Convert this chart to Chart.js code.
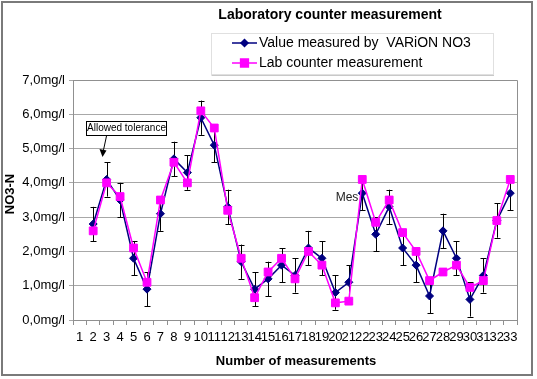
<!DOCTYPE html>
<html>
<head>
<meta charset="utf-8">
<script src="https://cdn.jsdelivr.net/npm/chart.js@4/dist/chart.umd.min.js"></script>
<style>
  html, body { margin: 0; padding: 0; background: #fff; }
  #wrap { width: 537px; height: 379px; }
</style>
</head>
<body>
<div id="wrap"><canvas id="chart" width="537" height="379"></canvas></div>
<script>
// measurements 1..33 (no value for the first one)
const measurements = ['1','2','3','4','5','6','7','8','9','10','11','12','13','14','15','16','17',
    '18','19','20','21','22','23','24','25','26','27','28','29','30','31','32','33'];

const varionValues = [null, 2.8, 4.1, 3.5, 1.8, 0.9, 3.1, 4.7, 4.3, 5.9, 5.1, 3.3, 1.7, 0.9, 1.2, 1.6, 1.3,
    2.1, 1.8, 0.8, 1.1, 3.7, 2.5, 3.3, 2.1, 1.6, 0.7, 2.6, 1.8, 0.6, 1.3, 2.9, 3.7];

const labValues = [null, 2.6, 4.0, 3.6, 2.1, 1.1, 3.5, 4.6, 4.0, 6.1, 5.6, 3.2, 1.8, 0.65, 1.4, 1.8, 1.2,
    2.0, 1.6, 0.5, 0.55, 4.1, 2.85, 3.5, 2.55, 2.0, 1.15, 1.4, 1.6, 0.95, 1.15, 2.9, 4.1];

// fixed error bar (allowed tolerance) on the VARiON series, mg/l
const tolerance = 0.5;

const yTicks = [0, 1, 2, 3, 4, 5, 6, 7];

const FONT = "'Liberation Sans', Arial, sans-serif";
const NAVY = "#000080";
const PINK = "#ff00ff";

// error bars, drawn under the lines
const errorBars = {
    id: "errorBars",
    beforeDatasetsDraw(chart) {
        const ctx = chart.ctx;
        const x = chart.scales.x;
        const y = chart.scales.y;
        ctx.save();
        ctx.strokeStyle = "#000";
        ctx.lineWidth = 1;
        varionValues.forEach((v, i) => {
            if (v === null) return;
            const px = Math.round(x.getPixelForValue(i)) + 0.5;
            const top = y.getPixelForValue(v + tolerance);
            const bot = y.getPixelForValue(Math.max(0, v - tolerance));
            ctx.beginPath();
            ctx.moveTo(px, top);
            ctx.lineTo(px, bot);
            ctx.moveTo(px - 3, Math.round(top) + 0.5);
            ctx.lineTo(px + 3, Math.round(top) + 0.5);
            ctx.moveTo(px - 3, Math.round(bot) + 0.5);
            ctx.lineTo(px + 3, Math.round(bot) + 0.5);
            ctx.stroke();
        });
        ctx.restore();
    }
};

// frame, titles, legend box and the notes
const decorations = {
    id: "decorations",
    beforeDraw(chart) {
        const ctx = chart.ctx;
        ctx.save();
        ctx.fillStyle = "#fff";
        ctx.fillRect(0, 0, chart.width, chart.height);
        ctx.restore();
    },
    afterDraw(chart) {
        const ctx = chart.ctx;
        const a = chart.chartArea;
        ctx.save();

        // plot area border (top/right)
        ctx.strokeStyle = "#909090";
        ctx.lineWidth = 1;
        ctx.beginPath();
        ctx.moveTo(Math.round(a.left) + 0.5, Math.round(a.top) + 0.5);
        ctx.lineTo(Math.round(a.right) + 0.5, Math.round(a.top) + 0.5);
        ctx.lineTo(Math.round(a.right) + 0.5, Math.round(a.bottom) + 0.5);
        ctx.stroke();

        // outer frame
        ctx.strokeStyle = "#7a7a7a";
        ctx.lineWidth = 2;
        ctx.strokeRect(2, 2, 530, 373);

        // chart title
        ctx.fillStyle = "#000";
        ctx.font = "bold 14px " + FONT;
        ctx.textAlign = "center";
        ctx.textBaseline = "middle";
        ctx.fillText("Laboratory counter measurement", 330, 15);

        // axis titles
        ctx.font = "bold 13px " + FONT;
        ctx.fillText("Number of measurements", 296, 361);
        ctx.save();
        ctx.translate(10, 194);
        ctx.rotate(-Math.PI / 2);
        ctx.fillText("NO3-N", 0, 0);
        ctx.restore();

        // legend
        ctx.fillStyle = "#fff";
        ctx.fillRect(211, 33, 282, 42);
        ctx.strokeStyle = "#e0e0e0";
        ctx.lineWidth = 1;
        ctx.strokeRect(211.5, 33.5, 282, 41);
        ctx.strokeStyle = "#c8c8c8";
        ctx.beginPath();
        ctx.moveTo(211.5, 75.5);
        ctx.lineTo(494, 75.5);
        ctx.stroke();
        const rows = [
            { text: "Value measured by  VARiON NO3", color: NAVY, style: "rectRot", r: 3.5, y: 43 },
            { text: "Lab counter measurement", color: PINK, style: "rect", r: 5.5, y: 63 }
        ];
        rows.forEach(row => {
            ctx.strokeStyle = row.color;
            ctx.lineWidth = 1.5;
            ctx.beginPath();
            ctx.moveTo(232, row.y);
            ctx.lineTo(257, row.y);
            ctx.stroke();
            ctx.fillStyle = row.color;
            Chart.helpers.drawPoint(ctx, { pointStyle: row.style, radius: row.r, borderWidth: 1, rotation: 0 }, 244.5, row.y);
            ctx.fill();
            ctx.fillStyle = "#000";
            ctx.font = "14px " + FONT;
            ctx.textAlign = "left";
            ctx.fillText(row.text, 259, row.y);
        });

        // "Allowed tolerance" note with arrow
        ctx.fillStyle = "#fff";
        ctx.fillRect(86, 121, 80, 14);
        ctx.strokeStyle = "#000";
        ctx.lineWidth = 1;
        ctx.strokeRect(86.5, 121.5, 80, 14);
        ctx.fillStyle = "#000";
        ctx.font = "10px " + FONT;
        ctx.textAlign = "center";
        ctx.fillText("Allowed tolerance", 126.5, 128.5);
        ctx.beginPath();
        ctx.moveTo(106.5, 136);
        ctx.lineTo(103.5, 150);
        ctx.stroke();
        ctx.beginPath();
        ctx.moveTo(102.5, 157);
        ctx.lineTo(99.5, 149);
        ctx.lineTo(106.5, 150.5);
        ctx.closePath();
        ctx.fill();

        // stray data label
        ctx.font = "12px " + FONT;
        ctx.fillStyle = "#222";
        ctx.fillText("Mes", 347, 198);

        ctx.restore();
    }
};

new Chart(document.querySelector("#chart").getContext("2d"), {
    type: "line",
    data: {
        labels: measurements,
        datasets: [
            {
                label: "Value measured by  VARiON NO3",
                data: varionValues,
                borderColor: NAVY,
                backgroundColor: NAVY,
                borderWidth: 1.5,
                pointStyle: "rectRot",
                pointRadius: 4,
                pointBorderWidth: 1,
                tension: 0,
                order: 2
            },
            {
                label: "Lab counter measurement",
                data: labValues,
                borderColor: PINK,
                backgroundColor: PINK,
                borderWidth: 1.5,
                pointStyle: "rect",
                pointRadius: 5.5,
                pointBorderWidth: 1,
                tension: 0,
                order: 1
            }
        ]
    },
    options: {
        responsive: false,
        animation: false,
        devicePixelRatio: 1,
        layout: { padding: { left: 4, right: 20, top: 80, bottom: 4 } },
        plugins: {
            legend: { display: false },
            title: { display: false },
            tooltip: { enabled: false }
        },
        scales: {
            x: {
                offset: true,
                grid: { offset: true, drawOnChartArea: false, tickLength: 5, color: "#909090" },
                border: { color: "#909090" },
                ticks: {
                    autoSkip: false, maxRotation: 0, minRotation: 0, padding: 5,
                    color: "#000", font: { family: FONT, size: 13 }
                },
                afterFit: s => { s.height = 55; }
            },
            y: {
                min: 0,
                max: 7,
                afterBuildTicks: s => { s.ticks = yTicks.map(v => ({ value: v })); },
                grid: { color: "#a8a8a8", tickLength: 4 },
                border: { color: "#909090" },
                ticks: {
                    padding: 4, color: "#000", font: { family: FONT, size: 13 },
                    callback: v => v.toFixed(1).replace(".", ",") + "mg/l"
                },
                afterFit: s => { s.width = 69; }
            }
        }
    },
    plugins: [errorBars, decorations]
});
</script>
</body>
</html>
